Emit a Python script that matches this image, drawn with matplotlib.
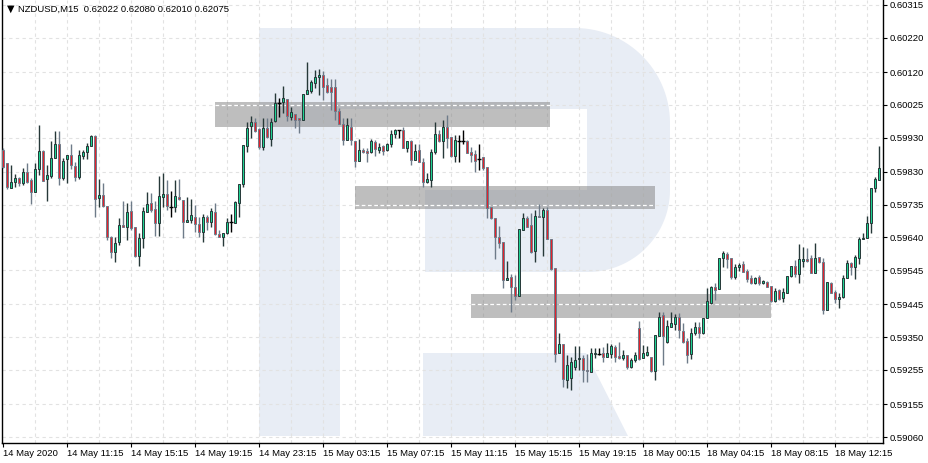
import matplotlib
matplotlib.use("Agg")
import matplotlib.pyplot as plt
import numpy as np
from matplotlib.patches import Polygon, Rectangle

# NZDUSD M15 candles
opens = [0.59894, 0.59856, 0.59783, 0.59801, 0.59812, 0.59798, 0.59830, 0.59807, 0.59772, 0.59839,
         0.59891, 0.59810, 0.59818, 0.59871, 0.59911, 0.59812, 0.59868, 0.59879, 0.59847, 0.59815,
         0.59876, 0.59888, 0.59905, 0.59934, 0.59754, 0.59763, 0.59731, 0.59641, 0.59597, 0.59627,
         0.59676, 0.59670, 0.59717, 0.59670, 0.59586, 0.59638, 0.59714, 0.59740, 0.59722, 0.59682,
         0.59757, 0.59766, 0.59728, 0.59728, 0.59757, 0.59749, 0.59685, 0.59690, 0.59699, 0.59679,
         0.59656, 0.59699, 0.59685, 0.59714, 0.59650, 0.59641, 0.59653, 0.59685, 0.59682, 0.59740,
         0.59795, 0.59905, 0.59963, 0.59975, 0.59955, 0.59903, 0.59958, 0.59926, 0.59978, 0.60030,
         0.60033, 0.60042, 0.59990, 0.59998, 0.59987, 0.59981, 0.60056, 0.60065, 0.60088, 0.60106,
         0.60112, 0.60083, 0.60077, 0.60077, 0.60007, 0.59969, 0.59923, 0.59961, 0.59920, 0.59862,
         0.59894, 0.59891, 0.59888, 0.59917, 0.59894, 0.59905, 0.59894, 0.59911, 0.59940, 0.59952,
         0.59952, 0.59900, 0.59920, 0.59865, 0.59894, 0.59859, 0.59801, 0.59807, 0.59888, 0.59940,
         0.59920, 0.59961, 0.59932, 0.59876, 0.59920, 0.59920, 0.59920, 0.59888, 0.59882, 0.59868,
         0.59873, 0.59844, 0.59728, 0.59696, 0.59641, 0.59627, 0.59516, 0.59525, 0.59496, 0.59470,
         0.59661, 0.59696, 0.59676, 0.59600, 0.59702, 0.59699, 0.59719, 0.59635, 0.59551, 0.59304,
         0.59330, 0.59226, 0.59232, 0.59263, 0.59287, 0.59290, 0.59255, 0.59249, 0.59301, 0.59301,
         0.59304, 0.59292, 0.59301, 0.59321, 0.59295, 0.59290, 0.59298, 0.59263, 0.59284, 0.59377,
         0.59290, 0.59298, 0.59292, 0.59252, 0.59353, 0.59414, 0.59336, 0.59380, 0.59388, 0.59409,
         0.59368, 0.59339, 0.59301, 0.59362, 0.59380, 0.59362, 0.59406, 0.59449, 0.59496, 0.59490,
         0.59580, 0.59592, 0.59580, 0.59525, 0.59554, 0.59563, 0.59542, 0.59522, 0.59507, 0.59525,
         0.59507, 0.59510, 0.59499, 0.59455, 0.59487, 0.59464, 0.59478, 0.59528, 0.59557, 0.59534,
         0.59571, 0.59577, 0.59580, 0.59536, 0.59583, 0.59568, 0.59429, 0.59507, 0.59481, 0.59461,
         0.59467, 0.59522, 0.59566, 0.59554, 0.59580, 0.59635, 0.59638, 0.59682, 0.59783, 0.59807]
highs = [0.59900, 0.59856, 0.59850, 0.59824, 0.59815, 0.59841, 0.59856, 0.59812, 0.59856, 0.59966,
         0.59894, 0.59850, 0.59920, 0.59949, 0.59949, 0.59871, 0.59879, 0.59911, 0.59859, 0.59894,
         0.59894, 0.59914, 0.59937, 0.59937, 0.59810, 0.59798, 0.59731, 0.59644, 0.59641, 0.59696,
         0.59746, 0.59740, 0.59746, 0.59670, 0.59653, 0.59728, 0.59772, 0.59769, 0.59746, 0.59818,
         0.59827, 0.59807, 0.59775, 0.59807, 0.59810, 0.59749, 0.59757, 0.59751, 0.59734, 0.59699,
         0.59708, 0.59705, 0.59725, 0.59740, 0.59661, 0.59653, 0.59696, 0.59708, 0.59746, 0.59795,
         0.59908, 0.59975, 0.59993, 0.59987, 0.59958, 0.59987, 0.59987, 0.59987, 0.60059, 0.60045,
         0.60080, 0.60042, 0.60019, 0.59998, 0.59987, 0.60056, 0.60149, 0.60097, 0.60126, 0.60129,
         0.60123, 0.60103, 0.60100, 0.60100, 0.60016, 0.59987, 0.59987, 0.59987, 0.59920, 0.59926,
         0.59900, 0.59900, 0.59926, 0.59923, 0.59914, 0.59908, 0.59914, 0.59952, 0.59955, 0.59952,
         0.59961, 0.59920, 0.59923, 0.59911, 0.59911, 0.59871, 0.59827, 0.59897, 0.59975, 0.59952,
         0.59981, 0.59995, 0.59932, 0.59937, 0.59937, 0.59952, 0.59923, 0.59903, 0.59894, 0.59911,
         0.59873, 0.59844, 0.59728, 0.59696, 0.59673, 0.59627, 0.59571, 0.59534, 0.59531, 0.59664,
         0.59711, 0.59702, 0.59711, 0.59719, 0.59737, 0.59725, 0.59728, 0.59635, 0.59551, 0.59362,
         0.59330, 0.59298, 0.59292, 0.59324, 0.59324, 0.59298, 0.59301, 0.59319, 0.59319, 0.59319,
         0.59321, 0.59333, 0.59330, 0.59327, 0.59336, 0.59313, 0.59298, 0.59290, 0.59307, 0.59397,
         0.59327, 0.59324, 0.59292, 0.59356, 0.59423, 0.59423, 0.59400, 0.59423, 0.59417, 0.59420,
         0.59391, 0.59348, 0.59377, 0.59394, 0.59394, 0.59406, 0.59493, 0.59499, 0.59507, 0.59580,
         0.59600, 0.59597, 0.59580, 0.59563, 0.59566, 0.59571, 0.59548, 0.59531, 0.59525, 0.59531,
         0.59516, 0.59513, 0.59499, 0.59493, 0.59490, 0.59493, 0.59528, 0.59557, 0.59574, 0.59621,
         0.59612, 0.59609, 0.59589, 0.59624, 0.59583, 0.59580, 0.59510, 0.59510, 0.59487, 0.59478,
         0.59531, 0.59574, 0.59568, 0.59589, 0.59641, 0.59653, 0.59702, 0.59783, 0.59815, 0.59905]
lows = [0.59841, 0.59780, 0.59783, 0.59786, 0.59789, 0.59792, 0.59798, 0.59737, 0.59772, 0.59821,
        0.59804, 0.59746, 0.59812, 0.59871, 0.59792, 0.59807, 0.59798, 0.59839, 0.59804, 0.59810,
        0.59868, 0.59868, 0.59905, 0.59699, 0.59728, 0.59728, 0.59632, 0.59580, 0.59568, 0.59618,
        0.59670, 0.59632, 0.59661, 0.59583, 0.59557, 0.59609, 0.59714, 0.59714, 0.59644, 0.59644,
        0.59728, 0.59719, 0.59699, 0.59714, 0.59749, 0.59638, 0.59685, 0.59682, 0.59656, 0.59641,
        0.59627, 0.59661, 0.59670, 0.59647, 0.59641, 0.59615, 0.59650, 0.59656, 0.59682, 0.59699,
        0.59786, 0.59888, 0.59929, 0.59946, 0.59897, 0.59894, 0.59929, 0.59905, 0.59975, 0.59990,
        0.60001, 0.59978, 0.59981, 0.59958, 0.59943, 0.59981, 0.60056, 0.60059, 0.60074, 0.60054,
        0.60039, 0.60059, 0.60010, 0.59981, 0.59969, 0.59908, 0.59923, 0.59908, 0.59844, 0.59862,
        0.59885, 0.59859, 0.59885, 0.59876, 0.59885, 0.59879, 0.59891, 0.59903, 0.59929, 0.59929,
        0.59900, 0.59888, 0.59850, 0.59865, 0.59859, 0.59786, 0.59798, 0.59786, 0.59882, 0.59917,
        0.59871, 0.59900, 0.59873, 0.59859, 0.59859, 0.59911, 0.59885, 0.59859, 0.59830, 0.59836,
        0.59836, 0.59696, 0.59693, 0.59577, 0.59609, 0.59493, 0.59516, 0.59423, 0.59458, 0.59470,
        0.59661, 0.59670, 0.59595, 0.59568, 0.59699, 0.59586, 0.59635, 0.59545, 0.59278, 0.59304,
        0.59205, 0.59202, 0.59197, 0.59255, 0.59255, 0.59220, 0.59220, 0.59249, 0.59290, 0.59298,
        0.59278, 0.59292, 0.59290, 0.59278, 0.59287, 0.59284, 0.59258, 0.59261, 0.59278, 0.59284,
        0.59290, 0.59295, 0.59249, 0.59226, 0.59353, 0.59269, 0.59333, 0.59380, 0.59371, 0.59348,
        0.59333, 0.59275, 0.59287, 0.59356, 0.59348, 0.59359, 0.59406, 0.59446, 0.59458, 0.59490,
        0.59554, 0.59551, 0.59519, 0.59519, 0.59542, 0.59539, 0.59510, 0.59505, 0.59505, 0.59502,
        0.59505, 0.59496, 0.59452, 0.59452, 0.59458, 0.59452, 0.59478, 0.59525, 0.59525, 0.59507,
        0.59554, 0.59568, 0.59536, 0.59536, 0.59566, 0.59417, 0.59429, 0.59478, 0.59449, 0.59435,
        0.59464, 0.59522, 0.59531, 0.59519, 0.59563, 0.59635, 0.59638, 0.59653, 0.59772, 0.59807]
closes = [0.59844, 0.59786, 0.59801, 0.59812, 0.59798, 0.59830, 0.59801, 0.59772, 0.59839, 0.59891,
          0.59804, 0.59821, 0.59871, 0.59911, 0.59812, 0.59862, 0.59879, 0.59850, 0.59815, 0.59879,
          0.59888, 0.59905, 0.59934, 0.59751, 0.59763, 0.59731, 0.59641, 0.59597, 0.59624, 0.59676,
          0.59670, 0.59714, 0.59667, 0.59586, 0.59638, 0.59717, 0.59737, 0.59719, 0.59682, 0.59760,
          0.59766, 0.59731, 0.59728, 0.59760, 0.59751, 0.59685, 0.59690, 0.59705, 0.59679, 0.59656,
          0.59699, 0.59685, 0.59717, 0.59650, 0.59641, 0.59653, 0.59685, 0.59685, 0.59743, 0.59795,
          0.59908, 0.59958, 0.59975, 0.59949, 0.59903, 0.59958, 0.59932, 0.59975, 0.60030, 0.60030,
          0.60045, 0.59993, 0.60004, 0.59981, 0.59981, 0.60056, 0.60068, 0.60091, 0.60106, 0.60112,
          0.60077, 0.60062, 0.60062, 0.60007, 0.59969, 0.59923, 0.59966, 0.59923, 0.59862, 0.59894,
          0.59888, 0.59885, 0.59920, 0.59897, 0.59903, 0.59891, 0.59911, 0.59940, 0.59952, 0.59952,
          0.59900, 0.59920, 0.59865, 0.59891, 0.59859, 0.59801, 0.59810, 0.59888, 0.59940, 0.59920,
          0.59961, 0.59929, 0.59876, 0.59923, 0.59920, 0.59920, 0.59885, 0.59879, 0.59862, 0.59868,
          0.59841, 0.59725, 0.59696, 0.59641, 0.59624, 0.59516, 0.59522, 0.59496, 0.59470, 0.59664,
          0.59696, 0.59670, 0.59597, 0.59702, 0.59699, 0.59719, 0.59635, 0.59548, 0.59301, 0.59330,
          0.59229, 0.59269, 0.59278, 0.59284, 0.59290, 0.59255, 0.59252, 0.59304, 0.59304, 0.59301,
          0.59292, 0.59304, 0.59324, 0.59292, 0.59290, 0.59298, 0.59263, 0.59284, 0.59298, 0.59287,
          0.59304, 0.59307, 0.59252, 0.59356, 0.59409, 0.59353, 0.59383, 0.59391, 0.59409, 0.59371,
          0.59336, 0.59298, 0.59362, 0.59380, 0.59362, 0.59406, 0.59455, 0.59496, 0.59487, 0.59580,
          0.59595, 0.59577, 0.59525, 0.59554, 0.59560, 0.59539, 0.59519, 0.59507, 0.59522, 0.59507,
          0.59513, 0.59496, 0.59455, 0.59484, 0.59461, 0.59481, 0.59528, 0.59557, 0.59534, 0.59577,
          0.59577, 0.59571, 0.59536, 0.59580, 0.59568, 0.59429, 0.59510, 0.59478, 0.59461, 0.59467,
          0.59522, 0.59566, 0.59554, 0.59583, 0.59635, 0.59638, 0.59682, 0.59783, 0.59810, 0.59841]

time_labels = ["14 May 2020", "14 May 11:15", "14 May 15:15", "14 May 19:15", "14 May 23:15",
               "15 May 03:15", "15 May 07:15", "15 May 11:15", "15 May 15:15", "15 May 19:15",
               "18 May 00:15", "18 May 04:15", "18 May 08:15", "18 May 12:15"]
label_bars = [0, 16, 32, 48, 64, 80, 96, 112, 128, 144, 160, 176, 192, 208]
price_ticks = [0.60315, 0.60220, 0.60120, 0.60025, 0.59930, 0.59830, 0.59735,
               0.59640, 0.59545, 0.59445, 0.59350, 0.59255, 0.59155, 0.59060]

# support / resistance zones (bar index range, price band, mid level)
zone_start = [53.0, 88.0, 117.0]
zone_end = [136.8, 163.0, 192.0]
zone_top = [0.60033, 0.59789, 0.59475]
zone_bottom = [0.59961, 0.59722, 0.59406]
zone_level = [0.60025, 0.59735, 0.59445]

title = "NZDUSD,M15  0.62022 0.62080 0.62010 0.62075"

W, H = 929, 463
UP_FILL = '#1fd393'
UP_EDGE = '#263838'
DN_FILL = '#e3222c'
DN_EDGE = '#6e7b89'
LOGO = '#e8edf5'
GRID = '#e2e2e2'
FONT = ['Liberation Sans', 'DejaVu Sans']

fig = plt.figure(figsize=(W / 100, H / 100), dpi=100)
fig.set_facecolor('w')

# background layer in pixel coords for the watermark "R"
bg = fig.add_axes([0, 0, 1, 1], zorder=0)
bg.set_xlim(0, W)
bg.set_ylim(H, 0)
bg.axis('off')

bg.add_patch(Rectangle((259, 28), 81, 408, color=LOGO, lw=0))
t = np.linspace(0, np.pi / 2, 30)
bowl = [(340, 28), (575, 28)]
bowl += list(zip(575 + 95 * np.sin(t), 123 - 95 * np.cos(t)))
bowl += [(670, 190)]
bowl += list(zip(588 + 82 * np.cos(t), 190 + 82 * np.sin(t)))
bowl += [(425, 272), (425, 190), (587, 190), (587, 109), (340, 109)]
bg.add_patch(Polygon(bowl, closed=True, color=LOGO, lw=0))
bg.add_patch(Polygon([(423, 353), (586, 353), (628, 436), (423, 436)],
                     closed=True, color=LOGO, lw=0))

# main price axes
ax = fig.add_axes([2 / W, (H - 443) / H, 881 / W, 443 / H], zorder=1)
ax.patch.set_alpha(0)

n = len(opens)
x = np.arange(n)
o = np.array(opens)
c = np.array(closes)
hi = np.array(highs)
lo = np.array(lows)

up = c > o
dn = c < o
dj = c == o

wick_col = np.where(up, UP_EDGE, np.where(dn, DN_EDGE, 'black'))
ax.vlines(x, lo, hi, colors=wick_col, linewidth=1.0, zorder=3)

ax.bar(x[up], (c - o)[up], bottom=o[up], width=0.72, color=UP_FILL,
       edgecolor=UP_EDGE, linewidth=0.7, zorder=4)
ax.bar(x[dn], (o - c)[dn], bottom=c[dn], width=0.72, color=DN_FILL,
       edgecolor=DN_EDGE, linewidth=0.7, zorder=4)
ax.hlines(o[dj], x[dj] - 0.5, x[dj] + 0.5, colors='black', linewidth=1.0, zorder=4)

for s, e, tp, bt, lv in zip(zone_start, zone_end, zone_top, zone_bottom, zone_level):
    ax.add_patch(Rectangle((s, bt), e - s, tp - bt, facecolor='#7f7f7f',
                           alpha=0.5, lw=0, zorder=2))
    ax.plot([s, e], [lv, lv], color='white', lw=0.9, dashes=(3, 2), zorder=2.5)

ax.set_xlim(-0.25, 220)
ax.set_ylim(0.590426, 0.603295)

# grid
for p in price_ticks:
    ax.axhline(p, color=GRID, lw=0.8, dashes=(3, 3), zorder=0.5)
for b in range(8, n, 8):
    ax.axvline(b, color=GRID, lw=0.8, dashes=(3, 3), zorder=0.5)

ax.set_xticks(label_bars)
ax.set_xticklabels(time_labels, ha='left', fontsize=6.8, family=FONT)
ax.set_yticks(price_ticks)
ax.set_yticklabels(["%.5f" % p for p in price_ticks], fontsize=6.8, family=FONT)
ax.yaxis.tick_right()
ax.tick_params(axis='x', length=3, width=0.8, pad=1.5, color='black')
ax.tick_params(axis='y', length=3, width=0.8, pad=1.5, color='black')

ax.spines['top'].set_visible(False)
for sp in ['left', 'bottom', 'right']:
    ax.spines[sp].set_linewidth(1.0)
    ax.spines[sp].set_color('black')

fig.text(7 / W, 1 - 9 / H, "\u25bc", fontsize=7, va='center', ha='left',
         family=['DejaVu Sans'])
fig.text(18 / W, 1 - 9 / H, title, fontsize=6.8, va='center', ha='left', family=FONT)

fig.savefig('out.png', dpi=100)
